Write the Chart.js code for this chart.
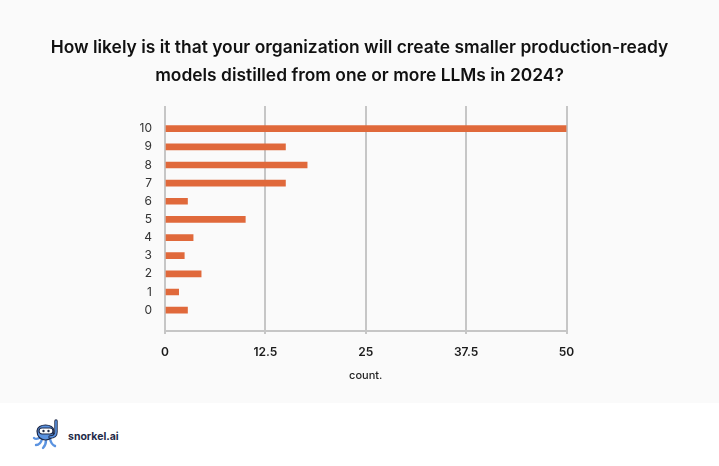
<!DOCTYPE html>
<html>
<head>
<meta charset="utf-8">
<script src="https://cdn.jsdelivr.net/npm/chart.js@4.4.1/dist/chart.umd.min.js"></script>
<style>
  html, body { margin: 0; padding: 0; background: #ffffff; }
  #wrap { position: relative; width: 719px; height: 466px; overflow: hidden; }
  #top { position: absolute; left: 0; top: 0; width: 719px; height: 403px; background: #fafafa; }
  #title { position: absolute; left: 0; top: 33px; width: 719px; text-align: center;
           font-family: "Inter", "Open Sans", sans-serif; font-weight: 600; font-size: 17px;
           line-height: 28px; color: #111111; white-space: nowrap; }
  #title span { display: inline-block; }
  #footer { position: absolute; left: 0; top: 403px; width: 719px; height: 63px; background: #ffffff; }
  #logo { position: absolute; left: 32px; top: 418px; width: 28px; height: 32px; }
  #brand { position: absolute; left: 68px; top: 430px; font-family: "Inter", "DejaVu Sans", sans-serif; font-weight: 700; font-size: 10.5px; color: #1f2a48; }
</style>
</head>
<body>
<div id="wrap">
  <div id="top">
    <canvas id="c" width="719" height="403"></canvas>
  </div>
  <div id="title"></div>
  <div id="footer"></div>
  <svg id="logo" viewBox="0 0 28 32">
    <g stroke="#1f2a48" stroke-width="1.2" stroke-linejoin="round" stroke-linecap="round">
      <path d="M9 19 C6 21 4 22 2 20" fill="none" stroke="#5b93e0" stroke-width="2.4"/>
      <path d="M10 21 C9 25 7 27 4 27" fill="none" stroke="#5b93e0" stroke-width="2.4"/>
      <path d="M14 22 C14 26 13 28 11 30" fill="none" stroke="#5b93e0" stroke-width="2.4"/>
      <path d="M18 21 C19 25 20 27 23 28" fill="none" stroke="#5b93e0" stroke-width="2.4"/>
      <path d="M5 13 C5 5 22 5 22 13 C22 19 18 22 13.5 22 C9 22 5 19 5 13 Z" fill="#5b93e0"/>
      <rect x="7" y="10" width="14" height="6" rx="3" fill="#ffffff"/>
      <circle cx="11.5" cy="13" r="1.2" fill="#1f2a48" stroke="none"/>
      <circle cx="16.5" cy="13" r="1.2" fill="#1f2a48" stroke="none"/>
      <path d="M18 19 C22 19 24 17 24 14 L24 3" fill="none" stroke="#1f2a48" stroke-width="3.4"/>
      <path d="M18 19 C22 19 24 17 24 14 L24 3" fill="none" stroke="#5b93e0" stroke-width="1.6"/>
    </g>
  </svg>
  <div id="brand">snorkel.ai</div>
</div>
<script>
// ---- data ----
const titleLines = [
  "How likely is it that your organization will create smaller production-ready",
  "models distilled from one or more LLMs in 2024?"
];
const categories = [10, 9, 8, 7, 6, 5, 4, 3, 2, 1, 0];
const counts     = [50, 15, 17.7, 15, 2.8, 10, 3.5, 2.4, 4.5, 1.7, 2.8];
const xTicks     = [0, 12.5, 25, 37.5, 50];
const xTitle     = "count.";

const FONT = '"Inter", "Open Sans", "DejaVu Sans", sans-serif';

// title as real text, fitted to the reference width
const tEl = document.getElementById('title');
titleLines.forEach((t, i) => {
  const s = document.createElement('span');
  s.textContent = t;
  tEl.appendChild(s);
  if (i < titleLines.length - 1) tEl.appendChild(document.createElement('br'));
});
const firstSpan = tEl.querySelector('span');
const w = firstSpan.getBoundingClientRect().width;
if (w > 0) tEl.style.fontSize = (17 * 618 / w).toFixed(2) + 'px';

const points = categories.map((c, i) => ({ y: c, x: counts[i] }));

new Chart(document.getElementById('c'), {
  type: 'bar',
  data: {
    datasets: [{
      data: points,
      backgroundColor: '#e0693b',
      borderWidth: 0,
      barThickness: 6
    }]
  },
  options: {
    indexAxis: 'y',
    responsive: false,
    animation: false,
    layout: { padding: { left: 0, right: 152.5, top: 106, bottom: 0 } },
    plugins: {
      legend: { display: false },
      tooltip: { enabled: false },
      title: { display: false }
    },
    scales: {
      y: {
        type: 'linear',
        offset: false,
        min: -1.15,
        max: 11.25,
        afterFit: s => { s.width = 165; },
        afterBuildTicks: s => { s.ticks = categories.map(v => ({ value: v })); },
        grid: { display: false, drawTicks: false },
        border: { display: false },
        ticks: {
          padding: 13,
          color: '#333333',
          font: { family: FONT, size: 12 },
          callback: v => String(v)
        }
      },
      x: {
        type: 'linear',
        min: 0,
        max: 50,
        afterFit: s => { s.height = 72; },
        afterBuildTicks: s => { s.ticks = xTicks.map(v => ({ value: v })); },
        grid: { color: '#c6c6c6', lineWidth: 2, tickLength: 3 },
        border: { color: '#c6c6c6', width: 2 },
        ticks: {
          padding: 11,
          color: '#1a1a1a',
          font: { family: FONT, size: 12, weight: '600' },
          callback: v => String(v)
        },
        title: {
          display: true,
          text: xTitle,
          color: '#222222',
          font: { family: FONT, size: 11, weight: '500' },
          padding: { top: 0, bottom: 21 }
        }
      }
    }
  }
});
</script>
</body>
</html>
